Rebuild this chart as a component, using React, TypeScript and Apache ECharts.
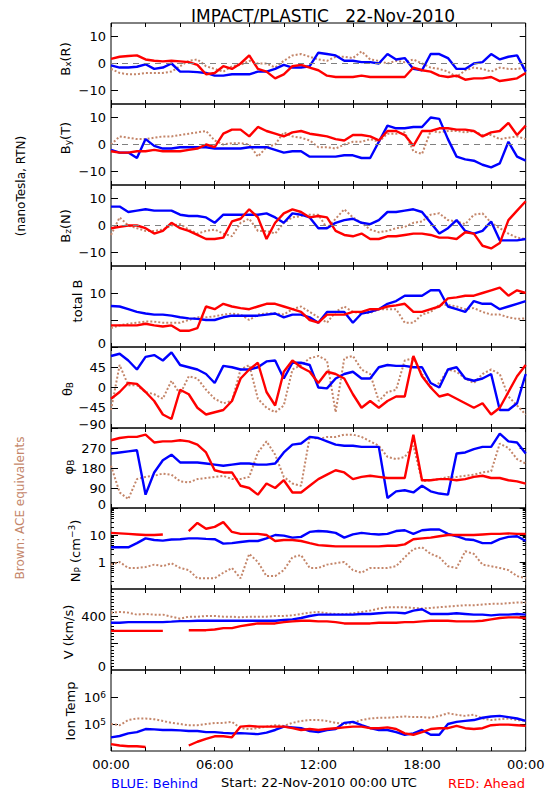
import React, { useEffect, useRef } from 'react';
import * as echarts from 'echarts';

// ---- data: one sample every 30 minutes, 00:00 .. 24:00 (49 samples) ----
const STEP_H = 0.5;

// Bx (R), nT
const BX_RED = [1.7, 2.5, 2.8, 3, 1.5, 1, 0.8, 1, 0.8, 0.5, -0.5, -4,
  -3.5, -1, -2, 0, 3, -2, -3, -5.5, -4, -1, -0.5, -1.5,
  -2.5, -4.5, -5, -5, -5, -4.5, -5, -5, -5, -5, -5, -1.5,
  -2.5, -3, -4.5, -5, -4.5, -6, -5.5, -5.5, -5, -6.5, -6, -5.5,
  -3.5];
const BX_BLUE = [-0.7, -1.5, -1.5, -1.2, -0.3, -2, -1.5, 0, -3, -3, -3.2, -3.5,
  -4.5, -4.5, -4, -4, -4, -3, -3, -2, -0.5, -1.5, -1.5, -1,
  4, 3.5, 3, 1, 1, 0.5, 0.5, 0, 3.5, 1.5, 2, -2,
  -2.5, 3.5, 3.5, 2, -2, -2, 0, 0.5, 3.5, 1.5, 2.5, 3,
  -3];
const BX_ACE = [-2, -3.5, -4, -4, -3.5, -3.5, -3.5, -3, -1, 1, 1.5, -1,
  -2, -3, -1, -0.5, 1, 0, 0, -1.5, 1, 3, 3.5, 2.5,
  1.5, 1, 2.5, 2.5, 2, 4.5, 1.5, 1, 0, 1, 0.5, 1.5,
  0, -1.5, -2, -3, -5, -2.5, -1.5, -2, -3, -1.5, -2, -2,
  -1.5];

// By (T), nT
const BY_RED = [-2.5, -3, -3, -2.5, -2.5, -2, -2.5, -2.5, -2.5, -2, -1.5, 0,
  -1, 4, 5.5, 5.5, 3, 6.5, 5, 4, 3, 4.5, 5, 4,
  3.5, 3, 2, 1.5, 3.5, 3.5, 3, 1.5, 5, 5, 3.5, -0.5,
  5, 5, 6, 6, 5.5, 5.5, 5, 3, 4.5, 5, 8, 3.5,
  7];
const BY_BLUE = [-2, -3, -3, -5, 2, -0.5, -1.5, -1.5, -1, -1, -1, -1,
  -1.5, -1.5, -1.5, -1.5, -1, -1, -1, -2, -3, -2.5, -2.5, -4.5,
  -4.5, -4.5, -4.5, -4, -4, -5, -5, 1, 7, 6, 6, 6.5,
  6.5, 10, 9.5, 2, -4.5, -5.5, -6, -7.5, -8.5, -7, 1, -4.5,
  -6];
const BY_ACE = [0, 3, 2.5, 2, 2, 2.5, 3, 3, 3.5, 4, 4.5, 5,
  1.5, 0, 0.5, 0.5, 0, -4.5, -1, 0, 4.5, 3, 2.5, 1.5,
  -1, -1, -1.5, 0, 1, 1, 2, 1, 4, 4, 4.5, -2.5,
  -3.5, 5, 4.5, 5, 5, 4.5, 5, 3.5, 3.5, 2, 2.5, 3,
  2];

// Bz (N), nT
const BZ_RED = [-1, -0.5, 0, 0, -1, -3, -2, 1, -1, -2, -3.5, -5,
  -5, -4.5, 1.5, 2.5, 6, 3, -5, 1, 4.5, 6, 5, 3,
  3.5, 3, -2, -3.5, -4, -3, -5, -5, -4, -4, -3.5, -3,
  -3, -3.5, -4.5, -4.5, -5, -2.5, -3, -7.5, -8.5, -6.5, 2, 5.5,
  9];
const BZ_BLUE = [7, 7, 5, 5.5, 6, 5.5, 5.5, 5.5, 4, 3.5, 3.5, 3,
  1, 4, 4, 4, 4, 4, 4.5, 3, 1, 4.5, 4, 3,
  -1, -1, 1, 2, 2.5, 1, 0.5, 2, 5, 5, 5.5, 6,
  5, 1, -3, -1, 2, -2, -3, -2, 1.5, -5.5, -5.5, -5.5,
  -5];
const BZ_ACE = [-3.5, 3, 0, -1, -2, -2, -1.5, 0, 0.5, -1.5, -3, -2,
  -1.5, -3, -4, 1, 2.5, -2, -2, -3, 1, 3, 3.5, 4,
  4, -1, 2.5, 6, 3, 1, -1.5, -2.5, -2, -1, -0.5, 1,
  1.5, 4, 4.5, 2, 1.5, 0.5, 4, 4.5, 1, -1, -3, -4.5,
  -5];

// total B, nT
const BT_RED = [4, 4, 4, 4, 4.3, 4, 3.8, 4, 3, 3, 3.5, 7.5,
  7, 8, 7.5, 7.2, 7, 7.5, 8, 8, 7.5, 7, 6.5, 5,
  4.5, 6, 6, 6, 6.5, 6.5, 7, 7, 7.5, 7.7, 8, 6.5,
  6.5, 7, 7.5, 9, 9.2, 9.5, 9.5, 10, 10.5, 11, 9.5, 10.5,
  10];
const BT_BLUE = [7.6, 7.5, 7, 6.5, 6.2, 6, 6, 5.8, 5.5, 5.3, 5.2, 5,
  5, 5.5, 5.8, 5.8, 5.8, 5.8, 6, 6.2, 5.5, 6, 6, 5.5,
  4.5, 6.5, 6.5, 6.5, 4.5, 6.2, 6.5, 7, 8, 8.5, 9.5, 9.5,
  9.5, 10.5, 10.5, 7.5, 7, 6.5, 8.5, 8, 8, 7, 7.5, 8,
  8.5];
const BT_ACE = [3.5, 4, 4.3, 4.5, 4.7, 4.7, 4.5, 4.5, 4.5, 5, 5.5, 5.5,
  5.7, 6, 6.2, 6, 5, 6, 6.2, 6.2, 6, 7, 7.5, 6.5,
  5.5, 4.5, 6.5, 7.5, 6.5, 6.3, 6.3, 7, 7, 7, 4.5, 4.5,
  6, 6.5, 7.8, 7.8, 7.5, 7, 7.2, 6.5, 6, 6, 5.5, 5.2,
  5.3];

// theta_B, degrees
const TH_RED = [-25, -10, 10, 8, -10, -30, -60, -70, -5, -15, -45, -60,
  -55, -50, -30, 20, 40, 55, -10, -40, 35, 60, 45, 35,
  10, 35, 30, 20, -15, -45, -30, -45, -30, -20, -20, 70,
  25, 0, -20, -15, -25, -35, -45, -35, -60, -45, -10, 25,
  50];
const TH_BLUE = [70, 75, 60, 40, 68, 72, 60, 78, 50, 45, 40, 30,
  10, 48, 45, 40, 40, 45, 58, 60, 20, 55, 55, 50,
  0, -2, 20, 30, 35, 20, 20, 45, 50, 48, 48, 45,
  45, 10, 0, 40, 45, 20, 15, 20, 30, -50, -50, -35,
  30];
const TH_ACE = [-50, 50, 5, 5, -10, -15, -25, 15, -15, 25, 20, -5,
  -25, -35, -30, 40, 50, -25, -45, -55, -40, 40, 50, 65,
  70, 60, -55, 65, 70, 40, 30, -30, -10, -5, 60, 65,
  30, 0, 10, 40, 35, 20, 10, 30, 40, 30, -20, -40,
  -60];

// phi_B, degrees
const PH_RED = [305, 315, 320, 320, 330, 295, 300, 300, 305, 300, 285, 250,
  170, 160, 160, 100, 90, 60, 110, 90, 125, 70, 70, 100,
  130, 150, 170, 160, 130, 140, 145, 140, 135, 135, 135, 330,
  125, 125, 130, 130, 125, 130, 140, 145, 135, 135, 125, 120,
  110];
const PH_BLUE = [245, 250, 255, 260, 60, 160, 215, 240, 205, 205, 205, 200,
  195, 190, 195, 200, 200, 195, 195, 200, 250, 285, 290, 320,
  315, 300, 285, 280, 280, 275, 275, 275, 45, 75, 80, 70,
  100, 75, 65, 60, 245, 250, 265, 275, 275, 335, 300, 295,
  245];
const PH_ACE = [190, 70, 40, 130, 140, 145, 155, 150, 120, 115, 130, 135,
  140, 145, 130, 130, 140, 250, 300, 240, 140, 110, 100, 320,
  310, 320, 320, 330, 330, 320, 300, 280, 230, 220, 230, 280,
  120, 125, 130, 140, 140, 145, 150, 160, 165, 290, 270, 220,
  200];

// proton density, cm^-3
const NP_RED = [12, 11.5, 11, 10.5, 10, 10, 10.5, null, null, 14, 28, 17,
  20, 30, 13, 11, 11, 11, 10, 6, 6.5, 6.5, 6, 5,
  4.2, 4, 3.8, 3.8, 3.8, 3.8, 3.8, 3.8, 4, 4, 4.5, 7,
  7.5, 8, 9, 10, 10, 10, 10, 10.5, 11, 11, 11.5, 11,
  11];
const NP_BLUE = [3.5, 3.5, 3.5, 5, 7.5, 6.5, 6.2, 6.8, 7, 7.5, 7.5, 7.2,
  7, 4.8, 5, 5.5, 6, 6, 7.5, 10, 9.5, 8, 8.5, 13,
  14, 13.5, 12, 8, 10.5, 12, 11, 10.5, 11, 14, 15, 11,
  15, 16, 16, 11, 9, 7, 6.5, 5, 5, 7, 8.5, 9,
  6];
const NP_ACE = [0.8, 1.0, 0.6, 0.6, 0.65, 0.8, 0.7, 0.9, 0.6, 0.5, 0.25, 0.25,
  0.25, 0.4, 0.6, 0.25, 2, 1, 0.3, 0.3, 0.5, 1.5, 1.8, 0.6,
  0.6, 0.8, 0.9, 1, 0.5, 0.4, 0.6, 0.6, 0.6, 0.7, 1.5, 3,
  3.5, 2, 1.5, 0.7, 0.6, 2.5, 2, 0.8, 0.7, 0.6, 0.5, 0.3,
  0.25];

// bulk speed, km/s
const V_RED = [290, 290, 290, 290, 290, 290, 290, null, null, 295, 295, 295,
  300, 310, 310, 325, 335, 345, 345, 345, 355, 360, 365, 365,
  360, 360, 355, 345, 345, 345, 345, 350, 350, 350, 355, 355,
  360, 365, 365, 365, 360, 360, 360, 365, 375, 385, 390, 390,
  385];
const V_BLUE = [350, 350, 355, 355, 355, 355, 355, 358, 362, 362, 365, 365,
  365, 365, 365, 365, 365, 365, 365, 365, 370, 375, 385, 400,
  410, 410, 410, 410, 410, 415, 415, 420, 425, 425, 420, 440,
  450, 415, 415, 415, 420, 415, 410, 410, 405, 410, 410, 415,
  410];
const V_ACE = [425, 430, 425, 410, 415, 410, 410, 395, 380, 395, 395, 400,
  400, 395, 395, 390, 395, 395, 395, 400, 400, 405, 415, 425,
  430, 420, 415, 415, 420, 430, 440, 455, 465, 465, 465, 460,
  455, 460, 465, 470, 475, 480, 480, 485, 490, 490, 495, 500,
  500];

// ion temperature, K
const T_RED = [1.8e4, 1.6e4, 1.5e4, 1.5e4, 1.4e4, null, null, null, null, 1.6e4, 2.2e4, 2.8e4,
  3.5e4, 3.5e4, 3.2e4, 8e4, 8.5e4, 8e4, 8e4, 8e4, 8e4, 7e4, 6e4, 6.5e4,
  6e4, 6.5e4, 7e4, 7.5e4, 8e4, 8e4, 7e4, 7e4, 7.5e4, 6.5e4, 4.5e4, 4e4,
  5e4, 6.5e4, 7e4, 7e4, 8.5e4, 7e4, 6.5e4, 7e4, 9e4, 9.5e4, 9.5e4, 9e4,
  8.5e4];
const T_BLUE = [3.2e4, 3.6e4, 4.5e4, 5e4, 6.5e4, 6.3e4, 6e4, 6e4, 5.8e4, 5.5e4, 5.5e4, 5e4,
  5e4, 4.7e4, 4.5e4, 4.6e4, 4.4e4, 4.2e4, 4.8e4, 6e4, 8e4, 7.5e4, 7e4, 5.5e4,
  5e4, 6e4, 6.5e4, 1.1e5, 1.2e5, 9e4, 7e4, 6e4, 6e4, 5e4, 4e4, 4.5e4,
  6e4, 4e4, 4e4, 1e5, 1.2e5, 1.3e5, 1.4e5, 1.7e5, 1.9e5, 2e5, 1.8e5, 1.6e5,
  1.3e5];
const T_ACE = [1e5, 9e4, 1.4e5, 1.6e5, 1.6e5, 1.5e5, 1.3e5, 1.1e5, 1e5, 9e4, 9e4, 1e5,
  1.1e5, 1.1e5, 1.2e5, 7e4, 6.5e4, 7e4, 8e4, 9e4, 8.5e4, 1.1e5, 1.3e5, 1.4e5,
  1.4e5, 1.3e5, 1.1e5, 1e5, 1.1e5, 1.4e5, 1.6e5, 1.7e5, 1.7e5, 1.8e5, 1.9e5, 1.8e5,
  1.8e5, 1.7e5, 2e5, 2.5e5, 2.2e5, 2e5, 2.2e5, 1.6e5, 1.4e5, 1.5e5, 1.6e5, 1.4e5,
  1.3e5];

// ---- axis ticks / labels ----
const X_TICKS = [0, 2, 4, 6, 8, 10, 12, 14, 16, 18, 20, 22, 24];
const X_LABELS = [0, 6, 12, 18, 24];
const B_TICKS = [-10, 0, 10];
const BT_TICKS = [0, 5, 10];
const BT_LABELS = [0, 10];
const TH_TICKS = [-90, -45, 0, 45];
const PH_TICKS = [0, 90, 180, 270];
const NP_TICKS = [1, 10];
const NP_MINOR = [0.2, 0.3, 0.4, 0.5, 0.6, 0.7, 0.8, 0.9, 2, 3, 4, 5, 6, 7, 8, 9, 20, 30, 40, 50, 60, 70, 80, 90];
const V_TICKS = [200, 400];
const V_LABELS = [0, 400];
const V_MINOR = [25, 50, 75, 100, 125, 150, 175, 225, 250, 275, 300, 325, 350, 375, 425, 450, 475, 500, 525, 550, 575];
const T_TICKS = [1e5, 1e6];

const TITLE = 'IMPACT/PLASTIC   22-Nov-2010';
const START_TEXT = 'Start: 22-Nov-2010 00:00 UTC';

// panel titles (rich text: s = subscript, p = superscript)
const NAMES = [
  '{n|B}{s|x}{n|(R)}',
  '{n|B}{s|y}{n|(T)}',
  '{n|B}{s|z}{n|(N)}',
  '{n|total B}',
  '{n|θ}{s|B}',
  '{n|φ}{s|B}',
  '{n|N}{s|P}{n| (cm}{p|−3}{n|)}',
  '{n|V (km/s)}',
  '{n|Ion Temp}',
];

// ---- styling / layout ----
const FONT = "'DejaVu Sans', 'Liberation Sans', Arial, sans-serif";
const RED = '#ff0000';
const BLUE = '#0000ff';
const BROWN = '#c4866a';
const PLOT_LEFT = 111;
const PLOT_W = 414.7;
const PLOT_TOP = 23;
const PANEL_H = 80.9;
// centre of each panel title (x, y) in px
const NAME_POS = [[65, 59], [65, 138], [65, 226], [77, 301], [67, 389], [68, 467], [75, 551], [68, 632], [70, 711]];

const NAME_RICH = {
  n: { fontSize: 13, fontFamily: FONT, fill: '#000', color: '#000' },
  s: { fontSize: 9, fontFamily: FONT, fill: '#000', color: '#000', padding: [6, 0, 0, 0] },
  p: { fontSize: 9, fontFamily: FONT, fill: '#000', color: '#000', padding: [0, 0, 6, 0] },
};
const LABEL_RICH = {
  sup: { fontSize: 9, fontFamily: FONT, color: '#000', verticalAlign: 'top' },
  low: { fontSize: 13, fontFamily: FONT, color: '#000', padding: [0, 0, 8, 0] },
};

type Panel = {
  type: 'value' | 'log'; min: number; max: number;
  ticks: number[]; labels: number[]; minor: number[]; zero: boolean;
  red: (number | null)[]; blue: (number | null)[]; ace: (number | null)[];
};

const PANELS: Panel[] = [
  { type: 'value', min: -15, max: 15, ticks: B_TICKS, labels: B_TICKS, minor: [], zero: true, red: BX_RED, blue: BX_BLUE, ace: BX_ACE },
  { type: 'value', min: -15, max: 15, ticks: B_TICKS, labels: B_TICKS, minor: [], zero: true, red: BY_RED, blue: BY_BLUE, ace: BY_ACE },
  { type: 'value', min: -15, max: 15, ticks: B_TICKS, labels: B_TICKS, minor: [], zero: true, red: BZ_RED, blue: BZ_BLUE, ace: BZ_ACE },
  { type: 'value', min: 0, max: 15, ticks: BT_TICKS, labels: BT_LABELS, minor: [], zero: false, red: BT_RED, blue: BT_BLUE, ace: BT_ACE },
  { type: 'value', min: -90, max: 90, ticks: TH_TICKS, labels: TH_TICKS, minor: [], zero: false, red: TH_RED, blue: TH_BLUE, ace: TH_ACE },
  { type: 'value', min: 0, max: 360, ticks: PH_TICKS, labels: PH_TICKS, minor: [], zero: false, red: PH_RED, blue: PH_BLUE, ace: PH_ACE },
  { type: 'log', min: 0.1, max: 100, ticks: NP_TICKS, labels: NP_TICKS, minor: NP_MINOR, zero: false, red: NP_RED, blue: NP_BLUE, ace: NP_ACE },
  { type: 'value', min: 0, max: 600, ticks: V_TICKS, labels: V_LABELS, minor: V_MINOR, zero: false, red: V_RED, blue: V_BLUE, ace: V_ACE },
  { type: 'log', min: 1e4, max: 1e7, ticks: T_TICKS, labels: T_TICKS, minor: [], zero: false, red: T_RED, blue: T_BLUE, ace: T_ACE },
];

function fmtHour(v: number) {
  const h = Math.round(v) % 24;
  return (h < 10 ? '0' : '') + h + ':00';
}

function makeLabelFormatter(p: Panel) {
  return (v: number) => {
    let s: string;
    if (p.type === 'log' && v >= 1e4) {
      s = '10{sup|' + Math.round(Math.log10(v)) + '}';
    } else {
      const r = Math.round(v * 1000) / 1000;
      s = (r < 0 ? '\u2212' : '') + String(Math.abs(r));
    }
    if (Math.abs(v - p.min) < 1e-9 && p.type === 'value') return '{low|' + s + '}';
    return s;
  };
}

function toPairs(arr: (number | null)[]) {
  return arr.map((v, i) => [i * STEP_H, v]);
}

function buildOption() {
  const grids: any[] = [];
  const xAxes: any[] = [];
  const yAxes: any[] = [];
  const series: any[] = [];
  const tickLine = { color: '#000', width: 1 };
  const noLine = { show: false, onZero: false };

  PANELS.forEach((p, i) => {
    const top = Math.round(PLOT_TOP + i * PANEL_H);
    const bottom = Math.round(PLOT_TOP + (i + 1) * PANEL_H);
    const last = i === PANELS.length - 1;
    grids.push({
      left: PLOT_LEFT, width: PLOT_W, top, height: bottom - top,
      show: true, borderColor: '#000', borderWidth: 1, backgroundColor: 'transparent',
      containLabel: false, outerBoundsMode: 'none',
    });
    const xBase = {
      gridIndex: i, type: 'value', min: 0, max: 24,
      axisLine: noLine, splitLine: { show: false },
      axisTick: { show: true, inside: true, length: 4, customValues: X_TICKS, lineStyle: tickLine },
    };
    const xIdx = xAxes.length;
    xAxes.push({
      ...xBase, position: 'bottom',
      axisLabel: { show: last, customValues: X_LABELS, formatter: fmtHour, color: '#000', fontSize: 13, fontFamily: FONT, margin: 7 },
    });
    xAxes.push({ ...xBase, position: 'top', axisLabel: { show: false } });

    const yBase: any = {
      gridIndex: i, type: p.type, min: p.min, max: p.max,
      axisLine: noLine, splitLine: { show: false }, minorTick: { show: false },
    };
    if (p.type === 'log') yBase.logBase = 10;
    const yIdx = yAxes.length;
    yAxes.push({
      ...yBase, position: 'left',
      axisTick: { show: true, inside: true, length: 7, customValues: p.ticks, lineStyle: tickLine },
      axisLabel: { show: true, customValues: p.labels, formatter: makeLabelFormatter(p), color: '#000', fontSize: 13, fontFamily: FONT, margin: 5, rich: LABEL_RICH },
    });
    yAxes.push({
      ...yBase, position: 'right',
      axisTick: { show: true, inside: true, length: 6, customValues: p.ticks, lineStyle: tickLine },
      axisLabel: { show: false },
    });
    if (p.minor.length) {
      yAxes.push({
        ...yBase, position: 'left',
        axisTick: { show: true, inside: true, length: 3, customValues: p.minor, lineStyle: tickLine },
        axisLabel: { show: false },
      });
      yAxes.push({
        ...yBase, position: 'right',
        axisTick: { show: true, inside: true, length: 3, customValues: p.minor, lineStyle: tickLine },
        axisLabel: { show: false },
      });
    }

    const common = {
      type: 'line', xAxisIndex: xIdx, yAxisIndex: yIdx, showSymbol: false, symbol: 'none',
      connectNulls: false, silent: true, animation: false,
    };
    const ace: any = {
      ...common, name: 'ACE', data: toPairs(p.ace), z: 2,
      lineStyle: { color: BROWN, width: 2, type: [2, 2] }, itemStyle: { color: BROWN },
    };
    if (p.zero) {
      ace.markLine = {
        silent: true, symbol: 'none', label: { show: false }, animation: false,
        lineStyle: { color: '#808080', width: 1, type: [6, 5] },
        data: [{ yAxis: 0 }],
      };
    }
    series.push(ace);
    series.push({
      ...common, name: 'Behind', data: toPairs(p.blue), z: 3,
      lineStyle: { color: BLUE, width: 2.4 }, itemStyle: { color: BLUE },
    });
    series.push({
      ...common, name: 'Ahead', data: toPairs(p.red), z: 4,
      lineStyle: { color: RED, width: 2.4 }, itemStyle: { color: RED },
    });
  });

  const txt = (text: string, fill: string, size: number, align: string) => ({
    text, fill, fontSize: size, fontFamily: FONT, align, verticalAlign: 'middle',
  });

  const nameTexts = NAMES.map((n, i) => ({
    type: 'text', x: NAME_POS[i][0], y: NAME_POS[i][1], rotation: Math.PI / 2, silent: true,
    style: { text: n, rich: NAME_RICH, fill: '#000', fontSize: 13, fontFamily: FONT, align: 'center', verticalAlign: 'middle' },
  }));

  return {
    animation: false,
    backgroundColor: '#fff',
    textStyle: { fontFamily: FONT },
    title: {
      text: TITLE, left: 318, top: 2, textAlign: 'center',
      textStyle: { fontSize: 17, fontWeight: 'normal', color: '#000', fontFamily: FONT },
    },
    grid: grids,
    xAxis: xAxes,
    yAxis: yAxes,
    series,
    graphic: [
      ...nameTexts,
      { type: 'text', x: 21, y: 186, rotation: Math.PI / 2, silent: true, style: txt('(nanoTesla, RTN)', '#000', 12, 'center') },
      { type: 'text', x: 20, y: 508, rotation: Math.PI / 2, silent: true, style: txt('Brown: ACE equivalents', BROWN, 12, 'center') },
      { type: 'text', x: 111, y: 783, silent: true, style: txt('BLUE: Behind', BLUE, 13, 'left') },
      { type: 'text', x: 319, y: 782, silent: true, style: txt(START_TEXT, '#000', 13, 'center') },
      { type: 'text', x: 525, y: 783, silent: true, style: txt('RED: Ahead', RED, 13, 'right') },
    ],
  };
}

export default function App() {
  const ref = useRef<HTMLDivElement>(null);
  useEffect(() => {
    if (!ref.current) return;
    const chart = echarts.init(ref.current, undefined, { renderer: 'svg' });
    chart.setOption(buildOption() as any);
    return () => chart.dispose();
  }, []);
  return (
    <div
      ref={ref}
      style={{ position: 'absolute', left: 0, top: 0, width: 550, height: 800, background: '#fff' }}
    />
  );
}
